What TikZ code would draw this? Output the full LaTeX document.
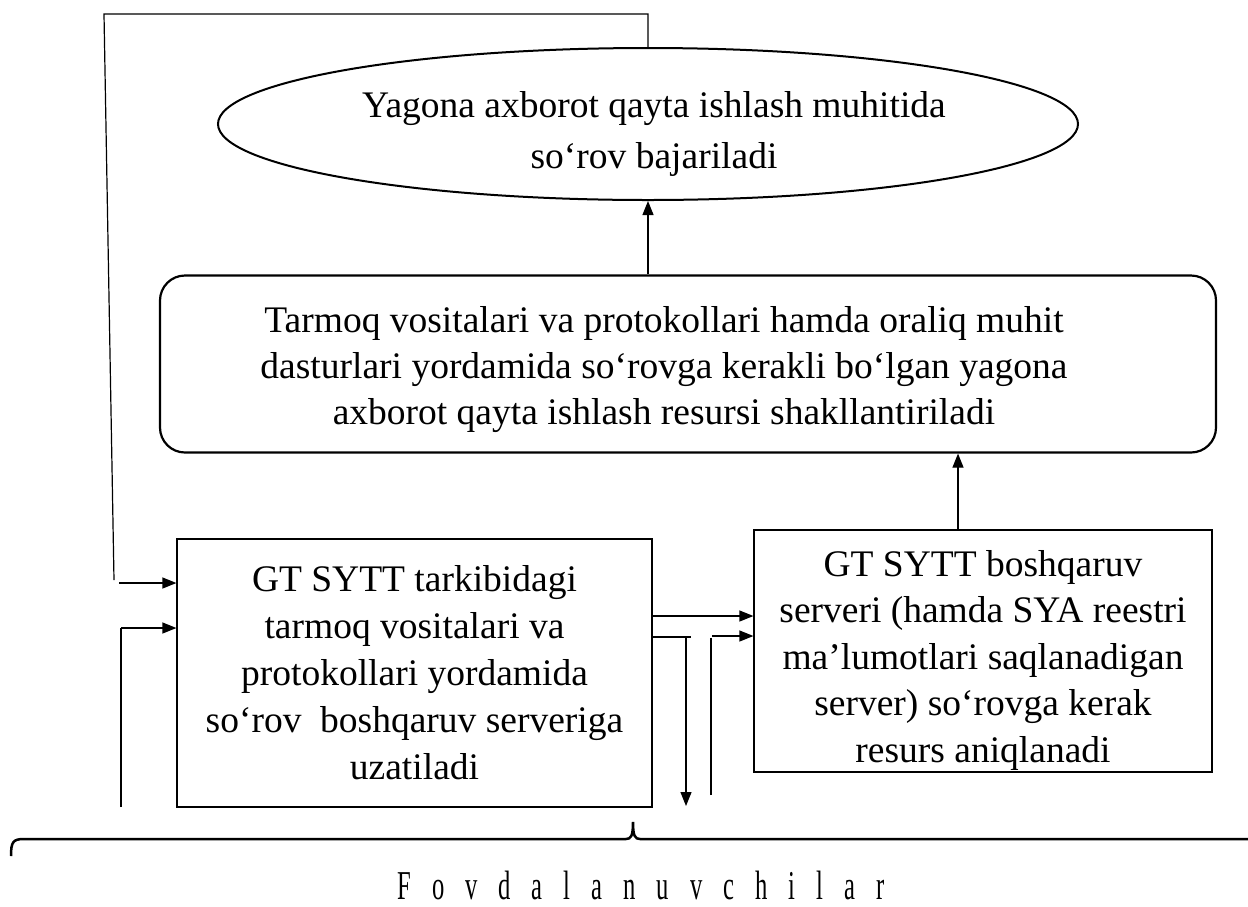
\documentclass[tikz,border=0pt]{standalone}
\usepackage{fontspec}
\usepackage{graphicx}
\setmainfont{Liberation Serif}
\newfontfamily\condfont{Liberation Serif}[FakeStretch=0.6]
\usetikzlibrary{arrows.meta,shapes.geometric,calc}
\begin{document}
\begin{tikzpicture}[x=1pt,y=-1pt,
 txt/.style={font=\fontsize{37.5}{47}\selectfont, align=center},
 sbox/.style={draw, line width=1.2pt, txt, inner sep=0pt},
 arr/.style={line width=1.2pt, -{Triangle[length=14pt,width=11pt]}},
 ln/.style={line width=1.2pt},
 thk/.style={line width=2pt}]
\useasboundingbox (0,0) rectangle (1248,906);
% ellipse
\node[draw, ellipse, line width=2pt, minimum width=860pt, minimum height=152pt, inner sep=0pt] (ell) at (648,124) {};
\node[txt, font=\fontsize{37.5}{51}\selectfont, yshift=-10pt, xshift=6pt] (ellt) at (ell.center) {Yagona axborot qayta ishlash muhitida\\so‘rov bajariladi};
% rounded box
\node[draw, rounded corners=25pt, line width=2.2pt, minimum width=1056pt, minimum height=177pt, inner sep=0pt] (rb) at (688,364) {};
\node[txt, font=\fontsize{37.5}{46}\selectfont, yshift=-6pt, xshift=-24pt] (rbt) at (rb.center) {Tarmoq vositalari va protokollari hamda oraliq muhit\\dasturlari yordamida so‘rovga kerakli bo‘lgan yagona\\axborot qayta ishlash resursi shakllantiriladi};
% left box
\node[sbox, minimum width=475pt, minimum height=268pt] (lb) at (414.5,673) {GT SYTT tarkibidagi\\tarmoq vositalari va\\protokollari yordamida\\so‘rov\ \ boshqaruv serveriga\\uzatiladi};
% right box
\node[draw, line width=1.2pt, minimum width=458pt, minimum height=242pt, inner sep=0pt] (rbx) at (983,651) {};
\node[txt, font=\fontsize{37.5}{46.5}\selectfont, yshift=-9pt] (rbxt) at (rbx.center) {GT SYTT boshqaruv\\serveri (hamda SYA reestri\\ma’lumotlari saqlanadigan\\server) so‘rovga kerak\\resurs aniqlanadi};
% connectors up
\draw[arr] (ell.south |- rb.north) -- (ell.south);
\coordinate (c1) at (958,0);
\draw[arr] (c1 |- rbx.north) -- (c1 |- rb.south);
% feedback loop
\coordinate (tl) at (104,14);
\coordinate (lb1) at (114,580);
\draw[ln] (ell.north) -- (ell.north |- tl) -- (tl) -- (lb1);
\coordinate (a1) at (119,583);
\draw[arr] (a1) -- (a1 -| lb.west);
\coordinate (a2b) at (121,807);
\coordinate (a2) at (121,628);
\draw[thk] (a2b) -- (a2);
\draw[arr] (a2) -- (a2 -| lb.west);
% middle arrows
\coordinate (m1) at (653,616);
\draw[arr] (m1) -- (m1 -| rbx.west);
\coordinate (m2) at (653,637);
\coordinate (m2e) at (691,637);
\draw[ln] (m2) -- (m2e);
\coordinate (d1) at (686,637);
\coordinate (d1e) at (686,806);
\draw[arr] (d1) -- (d1e);
\coordinate (u1) at (711,795);
\coordinate (u1t) at (711,638);
\draw[thk] (u1) -- (u1t);
\coordinate (u1h) at (712,636);
\draw[arr] (u1h) -- (u1h -| rbx.west);
% brace
\draw[line width=2.5pt] (11,856) .. controls (11,842) and (13,839) .. (24,839) -- (626,839) .. controls (631,839) and (633,836) .. (633,822) .. controls (633,836) and (635,839) .. (640,839) -- (1250,839);
\node[anchor=base, inner sep=0pt, font=\condfont\fontsize{41}{41}\selectfont] (fv) at (641,899) {\spaceskip=21pt\relax F o v d a l a n u v c h i l a r};
\end{tikzpicture}
\end{document}
